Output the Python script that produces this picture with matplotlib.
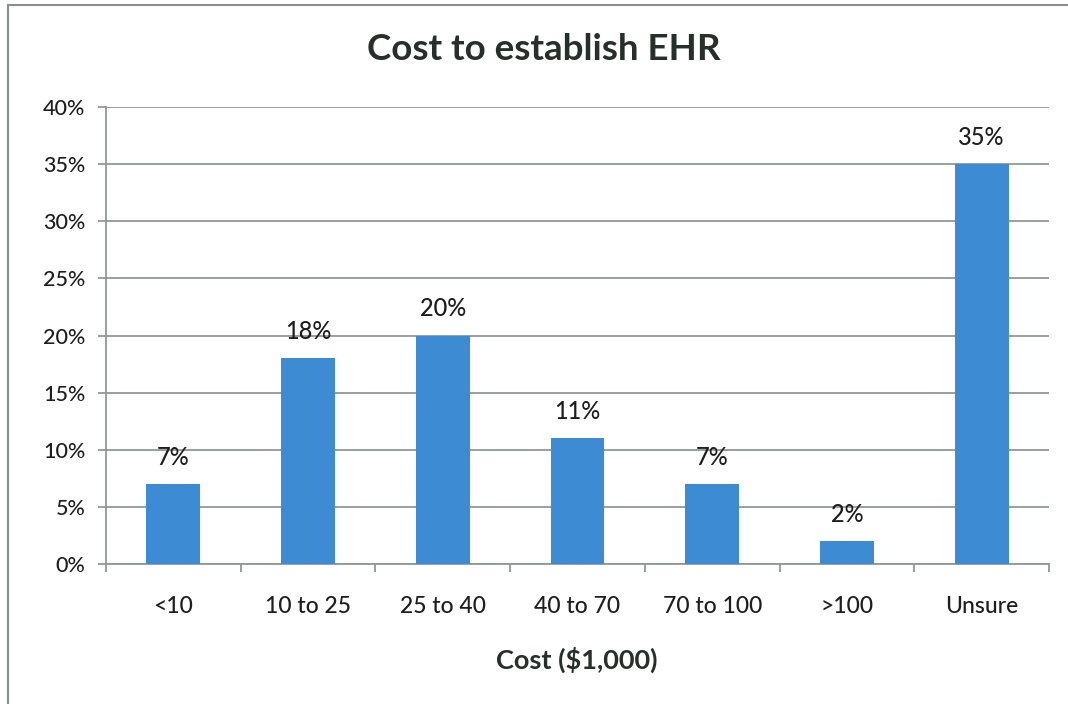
import matplotlib
matplotlib.use("Agg")
import matplotlib.pyplot as plt
from matplotlib.lines import Line2D
import numpy as np

categories = ["<10", "10 to 25", "25 to 40", "40 to 70", "70 to 100", ">100", "Unsure"]
values = [7, 18, 20, 11, 7, 2, 35]
yticks = [0, 5, 10, 15, 20, 25, 30, 35, 40]

plt.rcParams['font.family'] = ['Lato', 'DejaVu Sans']

fig = plt.figure(figsize=(10.68, 7.04), dpi=100)
ax = fig.add_axes([106/1068, 1-564/704, (1049-106)/1068, (564-107)/704])

bar_color = "#3d8bd3"
grid_color = "#8c9a92"
text_color = "#1e1e1e"

x = np.arange(len(categories))
bars = ax.bar(x, values, width=0.4, color=bar_color, zorder=3)

ax.set_xlim(-0.5, len(categories) - 0.5)
ax.set_ylim(0, 40)
ax.set_yticks(yticks)
ax.set_yticklabels([f"{v}%" for v in yticks], fontsize=15.5, color=text_color, fontweight="medium")
ax.yaxis.grid(True, color=grid_color, linewidth=1.3, zorder=0)
ax.set_axisbelow(True)

ax.set_xticks(np.arange(len(categories) + 1) - 0.5)
ax.set_xticklabels([])
ax.set_xticks(x, minor=True)
ax.set_xticklabels(categories, minor=True, fontsize=16.5, color=text_color, fontweight="medium")
ax.tick_params(axis='x', which='minor', length=0, pad=23)
ax.tick_params(axis='x', which='major', length=6, width=1.3, color=grid_color, direction='out')
ax.tick_params(axis='y', length=6, width=1.3, color=grid_color, pad=9)

for s in ["top", "right"]:
    ax.spines[s].set_visible(False)
for s in ["left", "bottom"]:
    ax.spines[s].set_color(grid_color)
    ax.spines[s].set_linewidth(1.3)

for xi, v in zip(x, values):
    ax.annotate(f"{v}%", (xi, v), xytext=(0, 11), textcoords="offset points",
                ha="center", va="bottom", fontsize=17, color=text_color,
                fontweight="medium", zorder=4)

fig.text(544/1068, 1-50/704, "Cost to establish EHR", ha="center", va="center",
         fontsize=26.5, fontweight="bold", color="#243029")
fig.text(577/1068, 1-660/704, "Cost ($1,000)", ha="center", va="center",
         fontsize=19.5, fontweight="bold", color="#243029")

# chart area border (left and top visible)
fig.add_artist(Line2D([8/1068, 8/1068], [0, 1-5/704], transform=fig.transFigure,
                      color="#8a8f8c", linewidth=1.5))
fig.add_artist(Line2D([8/1068, 1], [1-5/704, 1-5/704], transform=fig.transFigure,
                      color="#8a8f8c", linewidth=1.5))

fig.savefig("out.png", dpi=100)
